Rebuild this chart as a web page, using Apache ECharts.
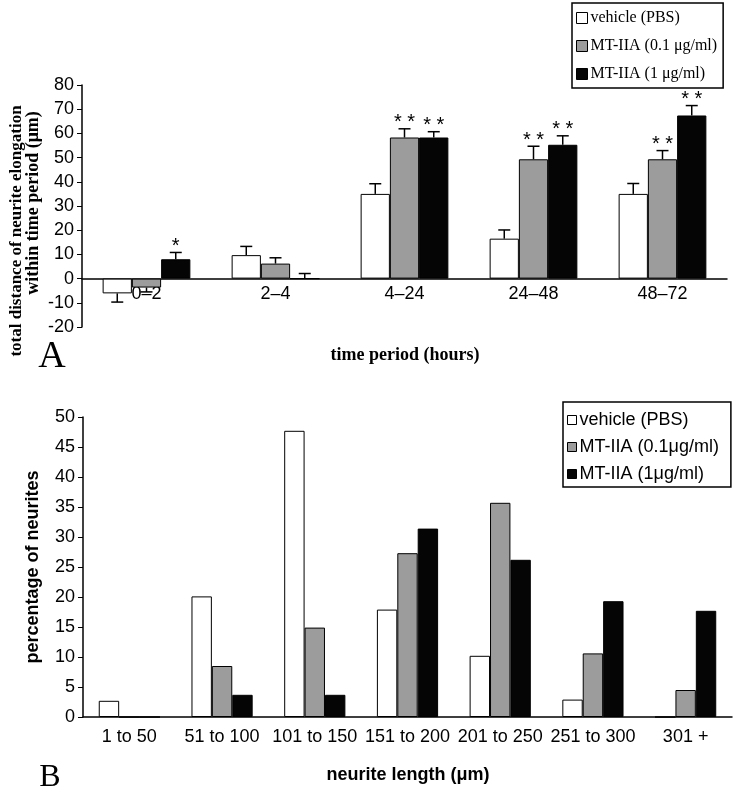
<!DOCTYPE html>
<html><head><meta charset="utf-8">
<script src="https://cdn.jsdelivr.net/npm/echarts@6/dist/echarts.min.js"></script>
<style>html,body{margin:0;padding:0;background:#fff}#c{width:736px;height:792px}</style>
</head><body><div id="c"></div>
<script>
// ---- Panel A data ----
const periods = ['0–2', '2–4', '4–24', '24–48', '48–72'];
const namesA = ['vehicle (PBS)', 'MT-IIA (0.1 μg/ml)', 'MT-IIA (1 μg/ml)'];
const elongVehicle = [-6.1, 9.7, 35.0, 16.5, 35.0];
const elongLow = [-3.7, 6.2, 58.3, 49.3, 49.3];
const elongHigh = [8.0, 0, 58.3, 55.3, 67.4];
const errVehicle = [3.6, 3.6, 4.2, 3.6, 4.3];
const errLow = [1.8, 2.4, 3.6, 5.4, 3.6];
const errHigh = [2.8, 2.1, 2.4, 3.7, 4.1];
const starsVehicle = ['', '', '', '', ''];
const starsLow = ['', '', '**', '**', '**'];
const starsHigh = ['*', '', '**', '**', '**'];

// ---- Panel B data ----
const lengthBins = ['1 to 50', '51 to 100', '101 to 150', '151 to 200', '201 to 250', '251 to 300', '301 +'];
const namesB = ['vehicle (PBS)', 'MT-IIA (0.1μg/ml)', 'MT-IIA (1μg/ml)'];
const pctVehicle = [2.7, 20.1, 47.7, 17.9, 10.2, 2.9, 0];
const pctLow = [0, 8.5, 14.9, 27.3, 35.7, 10.6, 4.5];
const pctHigh = [0, 3.7, 3.7, 31.4, 26.2, 19.3, 17.7];

const WHITE = '#ffffff', GRAY = '#9c9c9c', BLACK = '#050505';
const GAP_A = 0.32;
const SERIF = 'Liberation Serif';
const SANS = 'Liberation Sans';

function barSeries(name, data, color, ax) {
  return {
    type: 'bar', name: name, data: data, xAxisIndex: ax, yAxisIndex: ax,
    barGap: 0, barCategoryGap: ax === 0 ? '32%' : '34%',
    itemStyle: { color: color, borderColor: '#000', borderWidth: 1 },
    emphasis: { disabled: true }, animation: false
  };
}

function errSeries(values, errs, stars, idx) {
  return {
    type: 'custom', name: 'err' + idx, xAxisIndex: 0, yAxisIndex: 0, z: 5, silent: true,
    animation: false,
    data: values.map((v, i) => [i, v, errs[i]]),
    renderItem: function (params, api) {
      const i = api.value(0), v = api.value(1), e = api.value(2);
      const star = stars[params.dataIndex];
      const dir = v < 0 ? -1 : 1;
      const catW = api.size([1, 0])[0];
      const barW = catW * (1 - GAP_A) / 3;
      const x = api.coord([i, 0])[0] + (idx - 1) * barW;
      const y0 = api.coord([i, v])[1];
      const y1 = api.coord([i, v + dir * e])[1];
      const children = [
        { type: 'line', shape: { x1: x, y1: y0, x2: x, y2: y1 }, style: { stroke: '#000', lineWidth: 1.5 } },
        { type: 'line', shape: { x1: x - 6, y1: y1, x2: x + 6, y2: y1 }, style: { stroke: '#000', lineWidth: 1.5 } }
      ];
      if (star) {
        children.push({ type: 'text', x: x, y: y1 + 4,
          style: { text: star.split('').join(' '), font: '20px ' + SANS, fill: '#000', textAlign: 'center', textVerticalAlign: 'bottom' } });
      }
      return { type: 'group', children: children };
    }
  };
}

const chart = echarts.init(document.getElementById('c'), null, { renderer: 'canvas' });
const axisLbl = { color: '#000', fontFamily: SANS, fontSize: 18 };
chart.setOption({
  backgroundColor: '#fff',
  animation: false,
  grid: [
    { left: 82, top: 85, width: 645, height: 242 },
    { left: 83, top: 417, width: 649, height: 300 }
  ],
  xAxis: [
    { type: 'category', gridIndex: 0, data: periods,
      axisLine: { onZero: true, lineStyle: { color: '#000', width: 1.5 } },
      axisTick: { inside: false, length: 5, lineStyle: { color: '#000' } },
      axisLabel: Object.assign({ margin: -42 }, axisLbl), splitLine: { show: false } },
    { type: 'category', gridIndex: 1, data: lengthBins,
      axisLine: { lineStyle: { color: '#000', width: 1.5 } },
      axisTick: { length: 5, lineStyle: { color: '#000' } },
      axisLabel: Object.assign({ margin: 11, interval: 0 }, axisLbl), splitLine: { show: false } }
  ],
  yAxis: [
    { type: 'value', gridIndex: 0, min: -20, max: 80, interval: 10,
      axisLine: { show: true, lineStyle: { color: '#000', width: 1.5 } },
      axisTick: { show: true, length: 5, lineStyle: { color: '#000' } },
      axisLabel: Object.assign({ margin: 8 }, axisLbl), splitLine: { show: false } },
    { type: 'value', gridIndex: 1, min: 0, max: 50, interval: 5,
      axisLine: { show: true, lineStyle: { color: '#000', width: 1.5 } },
      axisTick: { show: true, length: 5, lineStyle: { color: '#000' } },
      axisLabel: Object.assign({ margin: 8 }, axisLbl), splitLine: { show: false } }
  ],
  legend: [
    { data: namesA, orient: 'vertical', left: 572, top: 3, padding: [7, 6, 6, 4], itemGap: 12,
      itemWidth: 11, itemHeight: 11, itemStyle: { borderColor: '#000', borderWidth: 1 },
      borderColor: '#000', borderWidth: 1.5, selectedMode: false, icon: 'rect',
      textStyle: { fontFamily: SERIF, fontSize: 16, color: '#000', padding: [0, 0, 0, -2] } },
    { data: namesB, orient: 'vertical', left: 563, top: 402, padding: [9, 12, 4, 4], itemGap: 9,
      itemWidth: 9, itemHeight: 9, itemStyle: { borderColor: '#000', borderWidth: 1 },
      borderColor: '#000', borderWidth: 1.5, selectedMode: false, icon: 'rect',
      textStyle: { fontFamily: SANS, fontSize: 18, color: '#000', padding: [0, 0, 0, -2] } }
  ],
  series: [
    barSeries(namesA[0], elongVehicle, WHITE, 0),
    barSeries(namesA[1], elongLow, GRAY, 0),
    barSeries(namesA[2], elongHigh, BLACK, 0),
    errSeries(elongVehicle, errVehicle, starsVehicle, 0),
    errSeries(elongLow, errLow, starsLow, 1),
    errSeries(elongHigh, errHigh, starsHigh, 2),
    barSeries(namesB[0], pctVehicle, WHITE, 1),
    barSeries(namesB[1], pctLow, GRAY, 1),
    barSeries(namesB[2], pctHigh, BLACK, 1)
  ],
  graphic: [
    { type: 'text', x: 17, y: 231, rotation: Math.PI / 2,
      style: { text: 'total distance of neurite elongation', font: 'bold 17px ' + SERIF, fill: '#000', textAlign: 'center', textVerticalAlign: 'middle' } },
    { type: 'text', x: 33, y: 203, rotation: Math.PI / 2,
      style: { text: 'within time period (μm)', font: 'bold 18px ' + SERIF, fill: '#000', textAlign: 'center', textVerticalAlign: 'middle' } },
    { type: 'text', x: 405, y: 355,
      style: { text: 'time period (hours)', font: 'bold 18px ' + SERIF, fill: '#000', textAlign: 'center', textVerticalAlign: 'middle' } },
    { type: 'text', x: 52, y: 357,
      style: { text: 'A', font: '38px ' + SERIF, fill: '#000', textAlign: 'center', textVerticalAlign: 'middle' } },
    { type: 'text', x: 33, y: 567, rotation: Math.PI / 2,
      style: { text: 'percentage of neurites', font: 'bold 18px ' + SANS, fill: '#000', textAlign: 'center', textVerticalAlign: 'middle' } },
    { type: 'text', x: 408, y: 775,
      style: { text: 'neurite length (μm)', font: 'bold 18px ' + SANS, fill: '#000', textAlign: 'center', textVerticalAlign: 'middle' } },
    { type: 'text', x: 50, y: 778,
      style: { text: 'B', font: '32px ' + SERIF, fill: '#000', textAlign: 'center', textVerticalAlign: 'middle' } }
  ]
});
</script></body></html>
